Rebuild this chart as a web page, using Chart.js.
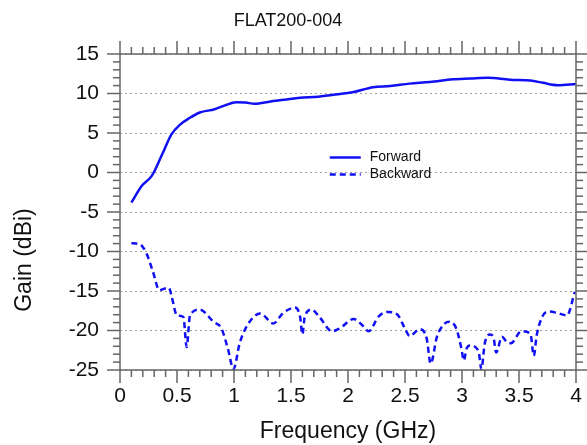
<!DOCTYPE html>
<html>
<head>
<meta charset="utf-8">
<script src="https://cdn.jsdelivr.net/npm/chart.js@4.4.1/dist/chart.umd.min.js"></script>
<style>
  body { margin: 0; background: #fff; }
  #wrap { width: 587px; height: 445px; }
</style>
</head>
<body>
<div id="wrap"><canvas id="myChart"></canvas></div>
<script>
// values
const fwdFreq = [0.10, 0.19, 0.28, 0.37, 0.45, 0.53, 0.61, 0.70, 0.83, 0.92, 1.02, 1.10, 1.18, 1.32, 1.46, 1.58, 1.74, 1.93, 2.05, 2.22, 2.37, 2.54, 2.72, 2.92, 3.07, 3.23, 3.42, 3.60, 3.71, 3.84, 4.00];
const fwdGain = [-3.8, -1.7, -0.4, 2.3, 4.8, 6.1, 6.9, 7.6, 8.0, 8.5, 8.9, 8.85, 8.7, 9.0, 9.25, 9.45, 9.6, 9.95, 10.2, 10.8, 10.95, 11.25, 11.45, 11.8, 11.9, 12.0, 11.75, 11.65, 11.35, 11.05, 11.2];

const bwdFreq = [0.10, 0.175, 0.234, 0.29, 0.345, 0.39, 0.43, 0.45, 0.50, 0.556, 0.585, 0.614, 0.70, 0.82, 0.89, 0.95, 0.995, 1.05, 1.11, 1.23, 1.345, 1.43, 1.535, 1.58, 1.60, 1.62, 1.68, 1.75, 1.86, 1.93, 2.05, 2.134, 2.18, 2.27, 2.35, 2.43, 2.50, 2.54, 2.63, 2.69, 2.725, 2.78, 2.85, 2.89, 2.95, 2.995, 3.016, 3.04, 3.07, 3.145, 3.17, 3.20, 3.245, 3.275, 3.30, 3.35, 3.39, 3.43, 3.52, 3.60, 3.63, 3.655, 3.71, 3.76, 3.84, 3.92, 3.99];
const bwdGain = [-8.95, -9.1, -10.3, -12.6, -14.9, -14.7, -14.6, -15.5, -18.1, -18.3, -22.1, -18.1, -17.35, -18.9, -19.75, -22.5, -24.9, -21.6, -19.5, -17.85, -19.1, -17.8, -17.1, -18.3, -20.5, -18.3, -17.35, -18.3, -20.1, -19.7, -18.55, -19.46, -20.1, -18.2, -17.65, -17.94, -19.75, -20.7, -19.84, -21.0, -24.2, -20.8, -19.1, -18.9, -19.75, -22.3, -23.8, -22.3, -21.9, -22.6, -24.9, -21.6, -20.5, -20.8, -22.8, -20.8, -21.4, -21.6, -20.1, -20.4, -23.2, -20.6, -18.1, -17.6, -17.8, -18.1, -15.1];

const seriesNames = ['Forward', 'Backward'];
const xTicks = [0, 0.5, 1, 1.5, 2, 2.5, 3, 3.5, 4];
const yTicks = [-25, -20, -15, -10, -5, 0, 5, 10, 15];

const blue = '#1010f2';
const axisColor = '#666666';
const font = 'Liberation Sans, Arial, Helvetica, sans-serif';

function pts(xs, ys) {
  return xs.map((v, i) => ({ x: v, y: ys[i] }));
}

// box, minor/major ticks, axis titles and the in-plot legend
const extras = {
  id: 'extras',
  afterDraw(chart) {
    const ctx = chart.ctx;
    const a = chart.chartArea;
    const x = chart.scales.x, y = chart.scales.y;
    ctx.save();
    ctx.strokeStyle = axisColor;
    ctx.lineWidth = 1.5;
    ctx.strokeRect(a.left, a.top, a.right - a.left, a.bottom - a.top);

    function seg(x1, y1, x2, y2) {
      ctx.beginPath(); ctx.moveTo(x1, y1); ctx.lineTo(x2, y2); ctx.stroke();
    }
    for (let i = 0; i <= 40; i++) {
      const px = x.getPixelForValue(i / 10);
      const len = i % 5 === 0 ? 13 : 7;
      seg(px, a.bottom, px, a.bottom + len);
      seg(px, a.top, px, a.top - len);
    }
    for (let v = -25; v <= 15; v++) {
      const py = y.getPixelForValue(v);
      const len = v % 5 === 0 ? 13 : 7;
      seg(a.left - len, py, a.left, py);
      seg(a.right, py, a.right + len, py);
    }

    // axis titles
    ctx.fillStyle = '#111';
    ctx.font = '23px ' + font;
    ctx.textAlign = 'center';
    ctx.textBaseline = 'middle';
    ctx.fillText('Frequency (GHz)', (a.left + a.right) / 2, 432);
    ctx.save();
    ctx.translate(25, 260);
    ctx.rotate(-Math.PI / 2);
    ctx.fillText('Gain (dBi)', 0, 0);
    ctx.restore();

    // legend
    const lx = x.getPixelForValue(1.84), ly = y.getPixelForValue(1.9);
    ctx.font = '14px ' + font;
    ctx.textAlign = 'left';
    chart.data.datasets.forEach((ds, i) => {
      const yy = ly + i * 17;
      ctx.strokeStyle = ds.borderColor;
      ctx.lineWidth = ds.borderWidth;
      ctx.setLineDash(ds.borderDash || []);
      seg(lx, yy, lx + 31, yy);
      ctx.setLineDash([]);
      ctx.fillText(ds.label, lx + 40, yy);
    });
    ctx.restore();
  }
};

new Chart(document.getElementById('myChart'), {
  type: 'line',
  data: {
    datasets: [{
      label: seriesNames[0],
      data: pts(fwdFreq, fwdGain),
      borderColor: blue,
      borderWidth: 2.5,
      pointRadius: 0,
      cubicInterpolationMode: 'monotone'
    }, {
      label: seriesNames[1],
      data: pts(bwdFreq, bwdGain),
      borderColor: blue,
      borderWidth: 2.5,
      borderDash: [6, 4],
      pointRadius: 0,
      cubicInterpolationMode: 'monotone'
    }]
  },
  options: {
    responsive: true,
    maintainAspectRatio: false,
    animation: false,
    layout: { padding: { left: 0, right: 11, top: 0, bottom: 0 } },
    plugins: {
      legend: { display: false },
      tooltip: { enabled: false },
      title: {
        display: true,
        text: 'FLAT200-004',
        color: '#111',
        font: { family: font, size: 18, weight: 'normal' },
        padding: { top: 10, bottom: 22.4 }
      }
    },
    scales: {
      x: {
        type: 'linear',
        min: 0, max: 4,
        afterFit(s) { s.height = 75; s.paddingLeft = 0; s.paddingRight = 0; },
        afterBuildTicks(s) { s.ticks = xTicks.map(v => ({ value: v })); },
        grid: { display: false, drawTicks: false },
        border: { display: false },
        ticks: {
          color: '#111', font: { family: font, size: 21 }, padding: 14, maxRotation: 0, autoSkip: false,
          callback: v => String(v)
        }
      },
      y: {
        min: -25, max: 15,
        afterFit(s) { s.width = 120; s.paddingTop = 0; s.paddingBottom = 0; },
        afterBuildTicks(s) { s.ticks = yTicks.map(v => ({ value: v })); },
        grid: { color: '#a0a0a0', lineWidth: 1, drawTicks: false },
        border: { display: false, dash: [2, 3] },
        ticks: { color: '#111', font: { family: font, size: 21 }, padding: 21 }
      }
    }
  },
  plugins: [extras]
});
</script>
</body>
</html>
